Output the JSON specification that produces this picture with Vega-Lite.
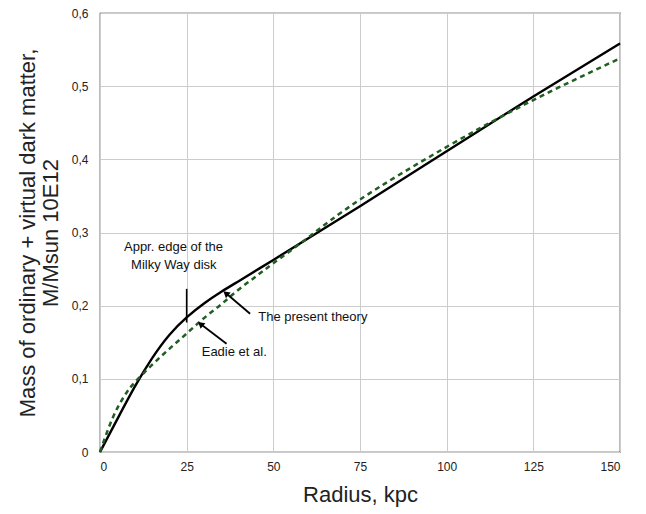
{
  "$schema": "https://vega.github.io/schema/vega-lite/v6.json",
  "width": 520,
  "height": 439,
  "autosize": "none",
  "padding": {"left": 100, "top": 13, "right": 26, "bottom": 62},
  "background": "white",
  "config": {
    "font": "Liberation Sans",
    "view": {"stroke": "#222", "strokeWidth": 1.2},
    "axis": {"grid": true, "gridColor": "#cccccc", "gridWidth": 1, "ticks": false, "domain": false, "labelColor": "#222", "titleColor": "#222", "labelFont": "Liberation Sans", "titleFont": "Liberation Sans", "titleFontWeight": "normal"}
  },
  "datasets": {
    "curves": [
      {"series": "theory", "r": 0, "m": 0},
      {"series": "theory", "r": 5, "m": 0.045},
      {"series": "theory", "r": 10, "m": 0.089},
      {"series": "theory", "r": 15, "m": 0.128},
      {"series": "theory", "r": 20, "m": 0.16},
      {"series": "theory", "r": 25, "m": 0.184},
      {"series": "theory", "r": 30, "m": 0.203},
      {"series": "theory", "r": 35, "m": 0.219},
      {"series": "theory", "r": 40, "m": 0.2335},
      {"series": "theory", "r": 45, "m": 0.248},
      {"series": "theory", "r": 50, "m": 0.2625},
      {"series": "theory", "r": 60, "m": 0.2918},
      {"series": "theory", "r": 75, "m": 0.336},
      {"series": "theory", "r": 100, "m": 0.411},
      {"series": "theory", "r": 125, "m": 0.486},
      {"series": "theory", "r": 150, "m": 0.5585},
      {"series": "eadie", "r": 0, "m": 0},
      {"series": "eadie", "r": 2.5, "m": 0.033},
      {"series": "eadie", "r": 5, "m": 0.06},
      {"series": "eadie", "r": 7.5, "m": 0.08},
      {"series": "eadie", "r": 10, "m": 0.095},
      {"series": "eadie", "r": 15, "m": 0.119},
      {"series": "eadie", "r": 20, "m": 0.141},
      {"series": "eadie", "r": 25, "m": 0.162},
      {"series": "eadie", "r": 30, "m": 0.183},
      {"series": "eadie", "r": 35, "m": 0.202},
      {"series": "eadie", "r": 40, "m": 0.222},
      {"series": "eadie", "r": 45, "m": 0.24},
      {"series": "eadie", "r": 50, "m": 0.258},
      {"series": "eadie", "r": 60, "m": 0.293},
      {"series": "eadie", "r": 75, "m": 0.345},
      {"series": "eadie", "r": 100, "m": 0.417},
      {"series": "eadie", "r": 125, "m": 0.481},
      {"series": "eadie", "r": 150, "m": 0.538}
    ],
    "arrows": [
      {"r1": 43.3, "m1": 0.189, "r2": 36.6, "m2": 0.216},
      {"r1": 36.5, "m1": 0.148, "r2": 29.3, "m2": 0.174}
    ],
    "heads": [
      {"r": 36.3, "m": 0.217},
      {"r": 29.0, "m": 0.175}
    ],
    "marker": [
      {"r": 25, "m1": 0.177, "m2": 0.223}
    ],
    "labels": [
      {"r": 21.2, "m": 0.2798, "text": "Appr. edge of the"},
      {"r": 21.3, "m": 0.2556, "text": "Milky Way disk"}
    ],
    "labels2": [
      {"r": 45.66, "m": 0.185, "text": "The present theory"},
      {"r": 29.34, "m": 0.137, "text": "Eadie et al."}
    ]
  },
  "layer": [
    {
      "data": {"name": "curves"},
      "transform": [{"filter": "datum.series == 'theory'"}],
      "mark": {"type": "line", "color": "#000000", "strokeWidth": 2.4, "interpolate": "natural"},
      "encoding": {
        "x": {"field": "r", "type": "quantitative", "scale": {"domain": [0, 150], "nice": false},
          "axis": {"values": [0, 25, 50, 75, 100, 125, 150], "title": "Radius, kpc", "labelFontSize": 12, "labelPadding": 9, "titleFontSize": 22, "titlePadding": 12}},
        "y": {"field": "m", "type": "quantitative", "scale": {"domain": [0, 0.6], "nice": false},
          "axis": {"values": [0, 0.1, 0.2, 0.3, 0.4, 0.5, 0.6], "labelExpr": "datum.value == 0 ? '0' : replace(format(datum.value, '.1f'), '.', ',')", "labelFontSize": 12, "labelPadding": 12, "title": ["Mass of ordinary + virtual dark matter,", "M/Msun 10E12"], "titleFontSize": 22, "titlePadding": 9, "titleLineHeight": 23}}
      }
    },
    {
      "data": {"name": "curves"},
      "transform": [{"filter": "datum.series == 'eadie'"}],
      "mark": {"type": "line", "color": "#215e21", "strokeWidth": 2.5, "strokeDash": [5, 4], "interpolate": "natural"},
      "encoding": {
        "x": {"field": "r", "type": "quantitative"},
        "y": {"field": "m", "type": "quantitative"}
      }
    },
    {
      "data": {"name": "marker"},
      "mark": {"type": "rule", "color": "#000000", "strokeWidth": 1.6},
      "encoding": {
        "x": {"field": "r", "type": "quantitative"},
        "y": {"field": "m1", "type": "quantitative"},
        "y2": {"field": "m2"}
      }
    },
    {
      "data": {"name": "arrows"},
      "mark": {"type": "rule", "color": "#000000", "strokeWidth": 1.8},
      "encoding": {
        "x": {"field": "r1", "type": "quantitative"},
        "y": {"field": "m1", "type": "quantitative"},
        "x2": {"field": "r2"},
        "y2": {"field": "m2"}
      }
    },
    {
      "data": {"name": "heads"},
      "mark": {"type": "point", "shape": "triangle-up", "filled": true, "color": "#000000", "size": 55, "angle": 310, "opacity": 1},
      "encoding": {
        "x": {"field": "r", "type": "quantitative"},
        "y": {"field": "m", "type": "quantitative"}
      }
    },
    {
      "data": {"name": "labels"},
      "mark": {"type": "text", "align": "center", "baseline": "middle", "fontSize": 13, "color": "#111"},
      "encoding": {
        "x": {"field": "r", "type": "quantitative"},
        "y": {"field": "m", "type": "quantitative"},
        "text": {"field": "text"}
      }
    },
    {
      "data": {"name": "labels2"},
      "mark": {"type": "text", "align": "left", "baseline": "middle", "fontSize": 13, "color": "#111"},
      "encoding": {
        "x": {"field": "r", "type": "quantitative"},
        "y": {"field": "m", "type": "quantitative"},
        "text": {"field": "text"}
      }
    }
  ]
}
